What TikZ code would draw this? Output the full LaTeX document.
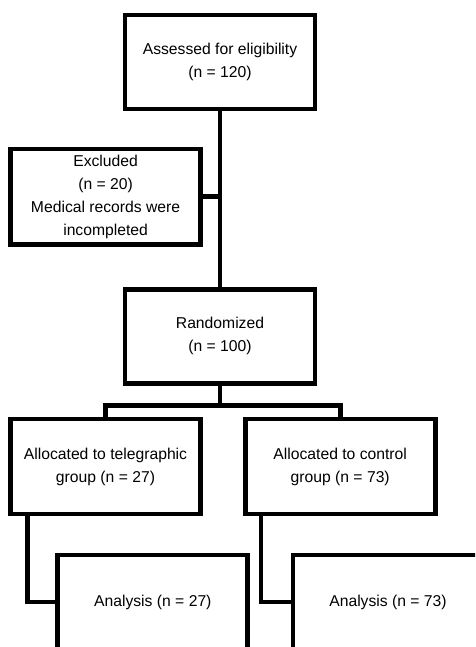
\documentclass[tikz,border=0pt]{standalone}
\usepackage{fontspec}
\setmainfont{Liberation Sans}
\usetikzlibrary{positioning}
\tikzset{
  flowbox/.style={draw,line width=4.7pt,line join=miter,minimum width=190pt,
    minimum height=94pt,inner sep=0pt,align=center,
    font=\fontsize{15.7}{23}\selectfont},
  link/.style={line width=4.7pt,line join=miter},
}
\begin{document}
\begin{tikzpicture}[x=1pt,y=-1pt]
\clip (0,0) rectangle (475,647);
\node[flowbox] (assess) at (220,62) {Assessed for eligibility\\(n = 120)};
\node[flowbox,minimum height=95.5pt] (excl) at (105.6,196.8) {Excluded\\(n = 20)\\Medical records were\\incompleted};
\node[flowbox,below=175.5pt of assess] (rand) {Randomized\\(n = 100)};
\node[flowbox,minimum height=95pt] (allocT) at (105.5,466.5) {Allocated to telegraphic\\group (n = 27)};
\node[flowbox,minimum height=95pt,right=40pt of allocT] (allocC) {Allocated to control\\group (n = 73)};
\node[flowbox] (analT) at (152.8,602) {Analysis (n = 27)};
\node[flowbox,right=40.5pt of analT] (analC) {Analysis (n = 73)};
% connectors
\draw[link] (assess.south) -- (rand.north);
\draw[link] (excl.east) -- (excl.east -| assess.south);
\draw[link] (rand.south) -- ++(0,19.8) coordinate (split);
\draw[link] (allocT.north) |- (split) -| (allocC.north);
\draw[link] ([xshift=19.3pt]allocT.south west) |- (analT.west);
\draw[link] ([xshift=18.2pt]allocC.south west) |- (analC.west);
\end{tikzpicture}
\end{document}
